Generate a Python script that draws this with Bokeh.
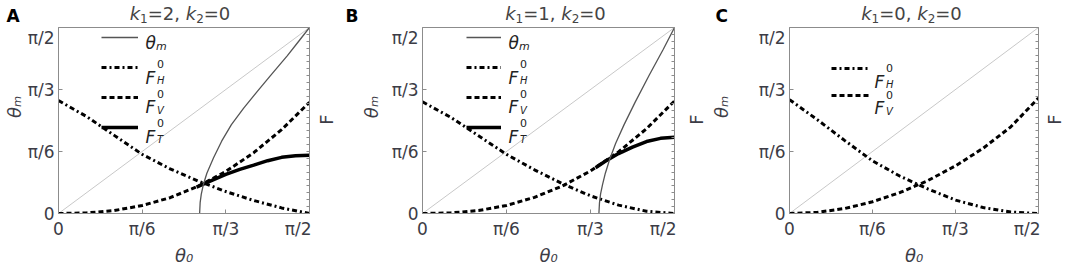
import math
from bokeh.plotting import figure
from bokeh.models import Range1d, LinearAxis, FixedTicker, Legend, LegendItem, Label
from bokeh.layouts import row, column
from bokeh.embed import file_html
from bokeh.resources import INLINE

# ---------------- data ----------------
# x: theta0 in degrees (0..90 == 0..pi/2); left axis: theta_m in degrees;
# right axis: F in units of the right-axis span (0..1)
tick_deg = [0, 30, 60, 90]
tick_text = ["0", "π/6", "π/3", "π/2"]

theta0_grid = [0, 10, 20, 30, 40, 50, 60, 70, 80, 90]
diag = [0, 90]

# Panel A  (k1=2, k2=0)
fh_a = [0.607, 0.522, 0.420, 0.318, 0.240, 0.175, 0.118, 0.070, 0.030, 0.0]
fv_a = [0.0, 0.003, 0.016, 0.043, 0.085, 0.146, 0.226, 0.327, 0.451, 0.598]
ft_a_x = [49.5, 55, 60, 65, 70, 75, 80, 85, 90]
ft_a = [0.142, 0.178, 0.210, 0.237, 0.260, 0.284, 0.302, 0.311, 0.313]
tm_a_x = [50.6, 50.8, 51.2, 52.0, 53.2, 55.6, 58.5, 62, 66.4, 71, 76, 82, 86, 90]
tm_a = [0, 5.4, 9.4, 14.3, 19.5, 27, 35, 43, 51, 58.6, 66.7, 76.3, 83.1, 90]

# Panel B  (k1=1, k2=0)
fh_b = [0.600, 0.518, 0.418, 0.318, 0.235, 0.160, 0.095, 0.045, 0.012, 0.0]
fv_b = [0.0, 0.003, 0.016, 0.043, 0.087, 0.148, 0.229, 0.331, 0.456, 0.605]
ft_b_x = [61.8, 65, 70, 75, 80, 85, 90]
ft_b = [0.246, 0.278, 0.322, 0.357, 0.387, 0.404, 0.410]
tm_b_x = [63, 63.2, 63.6, 64.3, 65.3, 66.8, 69, 72, 76, 81, 86, 90]
tm_b = [0, 5, 9.5, 14, 19.5, 26, 34, 43, 54, 67, 79.5, 90]

# Panel C  (k1=0, k2=0)
fh_c = [0.612, 0.505, 0.392, 0.283, 0.200, 0.132, 0.072, 0.032, 0.008, 0.0]
fv_c = [0.0, 0.006, 0.027, 0.063, 0.113, 0.177, 0.256, 0.351, 0.466, 0.621]

k1_values = ["2", "1", "0"]
letters = ["A", "B", "C"]

# ---------------- styling helpers ----------------
FONT = "DejaVu Sans"
TXT = "#3c3c46"
FRAME = "#8c8c8c"
STRIP_H = 27
PLOT_H = 241
FH = 188
MID = 0.32   # distance (in em) from the alphabetic baseline up to the text middle
ADV = {"k": 0.579, "=": 0.838, ",": 0.318, " ": 0.318}
for d in "0123456789":
    ADV[d] = 0.636


def lab(p, x, y, text, size, style="normal", color=TXT, align="left",
        baseline="alphabetic", angle=0.0):
    p.add_layout(Label(x=x, y=y, x_units="screen", y_units="screen", text=text,
                       text_font=FONT, text_font_size=f"{size}px",
                       text_font_style=style, text_color=color,
                       text_align=align, text_baseline=baseline, angle=angle))


def blank(width, height, bottom=0):
    f = figure(width=width, height=height, title=None, x_range=Range1d(0, width),
               y_range=Range1d(0, height - bottom), output_backend="svg",
               toolbar_location=None, x_axis_location=None, y_axis_location=None,
               min_border=0, min_border_left=0, min_border_right=0,
               min_border_top=0, min_border_bottom=bottom)
    f.grid.visible = False
    f.outline_line_color = None
    return f


def make_panel(fh, fv, ft_x, ft, tm_x, tm, cfg):
    p = figure(width=cfg["width"], height=PLOT_H, title=None,
               x_range=Range1d(0, 90), y_range=Range1d(0, 90),
               output_backend="svg", toolbar_location=None,
               min_border_left=cfg["left"], min_border_right=cfg["right"],
               min_border_top=0, min_border_bottom=PLOT_H - FH)
    p.extra_y_ranges = {"F": Range1d(0, 1)}
    p.grid.visible = False
    p.outline_line_color = FRAME
    p.outline_line_width = 1

    overrides = {t: s for t, s in zip(tick_deg, tick_text)}
    for ax in (p.xaxis[0], p.yaxis[0]):
        ax.ticker = FixedTicker(ticks=tick_deg)
        ax.major_label_overrides = overrides
        ax.minor_tick_line_color = None
        ax.major_tick_in = 4
        ax.major_tick_out = 0
        ax.major_tick_line_color = FRAME
        ax.axis_line_color = FRAME
        ax.major_label_text_font = FONT
        ax.major_label_text_font_size = "17px"
        ax.major_label_text_color = TXT
        ax.major_label_standoff = 4
        ax.axis_label_text_font = FONT
        ax.axis_label_text_font_size = "18px"
        ax.axis_label_text_font_style = "italic"
        ax.axis_label_text_color = TXT
    p.xaxis[0].axis_label = "θ₀"
    p.xaxis[0].axis_label_standoff = 3
    p.xaxis[0].major_label_standoff = 5
    # leading em/en spaces lift the visible label a little above the frame centre
    p.yaxis[0].axis_label = "\u2003\u2002θₘ"
    p.yaxis[0].axis_label_standoff = cfg["ylab_standoff"]

    rax = LinearAxis(y_range_name="F",
                     ticker=FixedTicker(ticks=[], minor_ticks=[i / 27 for i in range(28)]),
                     minor_tick_in=3, minor_tick_out=0, major_tick_in=0, major_tick_out=0,
                     minor_tick_line_color=FRAME, axis_line_color=FRAME)
    p.add_layout(rax, "right")

    p.line(diag, diag, line_color="#c8c8c8", line_width=1)
    r_fh = p.line(theta0_grid, fh, y_range_name="F", line_color="black",
                  line_width=3, line_dash="5 3 2 3")
    r_fv = p.line(theta0_grid, fv, y_range_name="F", line_color="black",
                  line_width=3, line_dash="5 3")
    items = []
    entries = []
    r_ft = r_tm = None
    if ft is not None:
        r_ft = p.line(ft_x, ft, y_range_name="F", line_color="black", line_width=3.5)
    if tm is not None:
        r_tm = p.line(tm_x, tm, line_color="#555555", line_width=1.3)
        items.append(LegendItem(label=" ", renderers=[r_tm]))
        entries.append(("theta", None))
    items.append(LegendItem(label=" ", renderers=[r_fh]))
    entries.append(("F", "H"))
    items.append(LegendItem(label=" ", renderers=[r_fv]))
    entries.append(("F", "V"))
    if r_ft is not None:
        items.append(LegendItem(label=" ", renderers=[r_ft]))
        entries.append(("F", "T"))

    n = len(items)
    sp = cfg["spacing"]
    box_h = n * 20 + (n - 1) * sp
    leg_y = FH - cfg["top_off"] - box_h
    legend = Legend(items=items, location=(cfg["leg_x"], leg_y),
                    glyph_width=cfg["glyph_w"], glyph_height=20,
                    label_height=20, label_width=0, label_standoff=0,
                    spacing=sp, padding=0, margin=0,
                    border_line_color=None, background_fill_alpha=0,
                    label_text_font_size="8px")
    p.add_layout(legend)

    tx = cfg["leg_x"] + cfg["glyph_w"] + cfg["text_gap"]
    for i, (kind, sub) in enumerate(entries):
        yc = cfg["text_top"] + i * cfg["text_pitch"]
        if kind == "theta":
            lab(p, tx, FH - (yc + 6), "θ", 17, "italic", "#222222")
            lab(p, tx + 10.5, FH - (yc + 9.5), "m", 11, "italic", "#222222")
        else:
            lab(p, tx, FH - (yc + 11), "F", 17, "italic", "#222222")
            lab(p, tx + 11.5, FH - (yc - 2.5), "0", 11, "normal", "#222222")
            lab(p, tx + 11.5, FH - (yc + 14), sub, 10, "italic", "#222222")
    return p


# layout of each panel group: [panel figure | narrow strip holding the right label "F"]
cfg_a = dict(x0=0, width=311, left=58, right=2, fwidth=29, fx=15,
             leg_x=43, glyph_w=37, text_gap=7,
             spacing=10, top_off=2, text_top=11.6, text_pitch=29.5,
             title_dx=-4, ylab_standoff=0, letter_x=6)
cfg_b = dict(x0=340, width=336, left=82, right=2, fwidth=31, fx=20,
             leg_x=44, glyph_w=35, text_gap=7,
             spacing=10, top_off=2, text_top=11.6, text_pitch=29.5,
             title_dx=7, ylab_standoff=7, letter_x=345)
cfg_c = dict(x0=707, width=333, left=81, right=2, fwidth=25, fx=14,
             leg_x=42, glyph_w=38, text_gap=5,
             spacing=7, top_off=33, text_top=45, text_pitch=26.7,
             title_dx=-2, ylab_standoff=24, letter_x=715)
cfgs = [cfg_a, cfg_b, cfg_c]

pa = make_panel(fh_a, fv_a, ft_a_x, ft_a, tm_a_x, tm_a, cfg_a)
pb = make_panel(fh_b, fv_b, ft_b_x, ft_b, tm_b_x, tm_b, cfg_b)
pc = make_panel(fh_c, fv_c, None, None, None, None, cfg_c)

children = []
for p, cfg in zip((pa, pb, pc), cfgs):
    # frame of this strip is aligned with the panel frame (same bottom border)
    fstrip = blank(cfg["fwidth"], PLOT_H, bottom=PLOT_H - FH)
    lab(fstrip, cfg["fx"], FH - (121 - STRIP_H), "F", 18, "normal", TXT,
        "center", "middle", math.pi / 2)
    children += [p, fstrip]

# ---- strip above the panels: panel letters and titles ----
strip = blank(1065, STRIP_H)
for cfg, k1, letter in zip(cfgs, k1_values, letters):
    fw = cfg["width"] - cfg["left"] - cfg["right"]
    runs = [("k", 18, "italic", 0), ("1", 12, "normal", -3.4),
            ("=" + k1 + ", ", 18, "normal", 0), ("k", 18, "italic", 0),
            ("2", 12, "normal", -3.4), ("=0", 18, "normal", 0)]
    widths = [sum(ADV[c] for c in t) * s for t, s, _, _ in runs]
    x = cfg["x0"] + cfg["left"] + fw / 2 + cfg["title_dx"] - sum(widths) / 2
    for (t, s, st, off), w in zip(runs, widths):
        lab(strip, x, STRIP_H - 18.6 + off + MID * s, t, s, st, "#444444",
            baseline="middle")
        x += w
    lab(strip, cfg["letter_x"], STRIP_H - 20.7 + MID * 17, letter, 17, "bold", "black",
        baseline="middle")

layout = column(strip, row(*children, spacing=0), spacing=0)
open("out.html", "w").write(file_html(layout, INLINE))
